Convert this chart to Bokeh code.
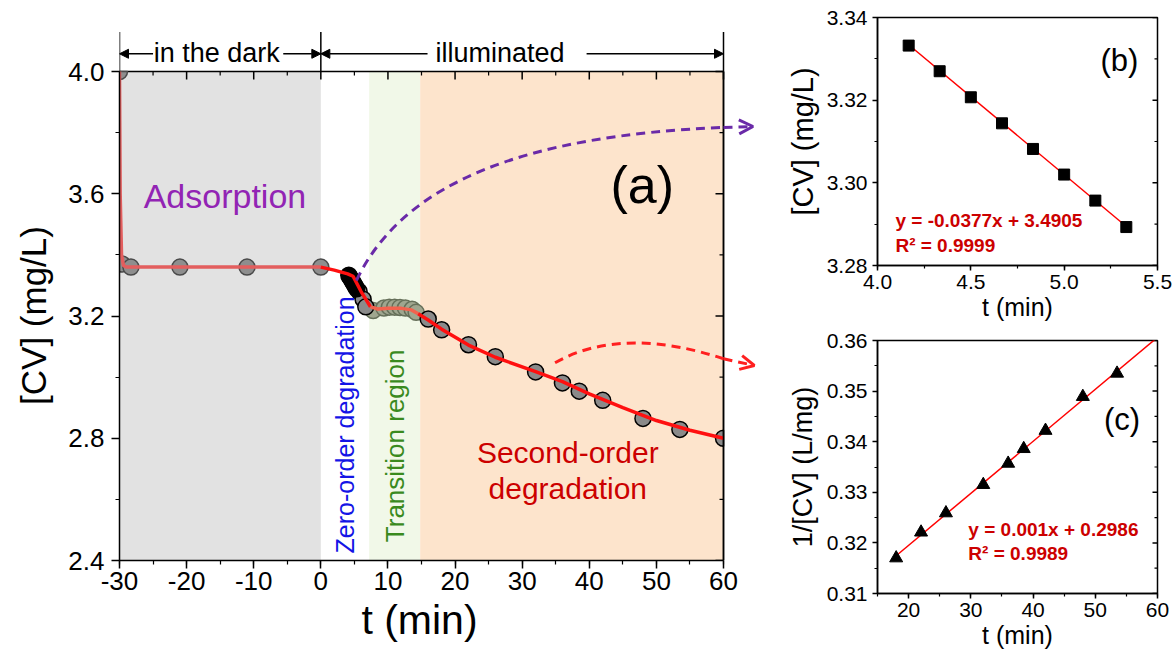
import numpy as np
from bokeh.plotting import figure
from bokeh.layouts import row, column
from bokeh.models import (SingleIntervalTicker, PrintfTickFormatter, Label,
                          Arrow, NormalHead, OpenHead, Range1d)
from bokeh.embed import file_html
from bokeh.resources import INLINE

FONT = "Liberation Sans"

# ---------------- main panel (a) data ----------------
dark_t = [-30, -29.6, -28.3, -21, -11, 0]
dark_cv = [4.0, 3.37, 3.36, 3.36, 3.36, 3.36]
zero_t = [4.167, 4.333, 4.5, 4.667, 4.833, 5.0, 5.167, 5.333]
zero_cv = [3.3332, 3.3270, 3.3207, 3.3144, 3.3082, 3.3020, 3.2957, 3.2893]
drop_t = [5.7, 6.3, 6.7]
drop_cv = [3.28, 3.255, 3.23]
trans_t = [7.8, 9.4, 10.2, 11.0, 11.8, 12.6, 13.6, 14.2]
trans_cv = [3.218, 3.226, 3.229, 3.229, 3.228, 3.226, 3.222, 3.212]
second_t = [16, 18, 22, 26, 32, 36, 38.5, 42, 48, 53.5, 60]
second_cv = [3.19, 3.155, 3.106, 3.067, 3.017, 2.981, 2.954, 2.924, 2.865, 2.829, 2.80]

fit_t = [-30, -29.9, -29.7, -29.4, -29, -20, -10, 0, 2, 4, 4.8, 6, 7.4, 8.5, 10, 12, 13.5,
         14.5, 16, 18, 22, 26, 32, 36, 40, 45, 50, 55, 60]
fit_cv = [4.0, 3.6, 3.40, 3.365, 3.36, 3.36, 3.36, 3.36, 3.35, 3.338, 3.33, 3.28, 3.23, 3.223,
          3.225, 3.225, 3.22, 3.207, 3.187, 3.157, 3.105, 3.065, 3.018, 2.985, 2.945, 2.9,
          2.858, 2.826, 2.80]

region_left = [-30, 7.2, 14.8]
region_right = [0, 14.8, 60]
region_color = ["#e2e2e2", "#f1f8e8", "#fde4cc"]

# dashed guide curves (bezier: start, control1, control2, end) and arrow tips
purple_curve = [5.3, 3.316, 12.2, 3.634, 30.1, 3.791, 60, 3.817]
purple_tip = [64.4, 3.82]
red_curve = [34.9, 3.047, 42.0, 3.136, 51.0, 3.126, 60, 3.060]
red_tip = [64.6, 3.038]

# ---------------- panel (b) data ----------------
b_t = zero_t
b_cv = zero_cv
b_slope, b_icpt = -0.0377, 3.4905

# ---------------- panel (c) data ----------------
c_t = [18, 22, 26, 32, 36, 38.5, 42, 48, 53.5]
c_inv = [0.3170, 0.3221, 0.3259, 0.3315, 0.3357, 0.3386, 0.3422, 0.3489, 0.3535]


def style(p, tick_size, xtitle_size, ytitle_size, tick_out=8, minor_out=4):
    p.grid.visible = False
    p.background_fill_color = "white"
    p.border_fill_color = "white"
    for ax in p.xaxis + p.yaxis:
        ax.axis_line_color = "black"
        ax.axis_line_width = 1.5
        ax.major_tick_line_color = "black"
        ax.minor_tick_line_color = "black"
        ax.major_tick_line_width = 1.5
        ax.minor_tick_line_width = 1.2
        ax.major_tick_in = 0
        ax.major_tick_out = tick_out
        ax.minor_tick_in = 0
        ax.minor_tick_out = minor_out
        ax.major_label_text_font = FONT
        ax.major_label_text_font_size = f"{tick_size}px"
        ax.major_label_text_color = "black"
        ax.axis_label_text_font = FONT
        ax.axis_label_text_font_style = "normal"
        ax.axis_label_text_color = "black"
    p.xaxis.axis_label_text_font_size = f"{xtitle_size}px"
    p.yaxis.axis_label_text_font_size = f"{ytitle_size}px"


def right_ticks(p, xpos, majors, minors, lmaj, lmin):
    p.ray(x=xpos, y=majors, length=lmaj, length_units="screen", angle=np.pi,
          line_color="black", line_width=1.5)
    p.ray(x=xpos, y=minors, length=lmin, length_units="screen", angle=np.pi,
          line_color="black", line_width=1.2)


# ================= main figure =================
X0, X1, Y0, Y1 = -30.0, 60.0, 2.4, 4.0
W, H = 760, 652
FL, FR, FT, FB = 119, 723, 71, 560
sx = (X1 - X0) / (FR - FL)
sy = (Y1 - Y0) / (FB - FT)
p = figure(width=W, height=H, x_range=Range1d(X0, X1 + (W - FR) * sx),
           y_range=Range1d(Y0, Y1 + FT * sy),
           output_backend="svg", toolbar_location=None,
           min_border_left=FL, min_border_right=0, min_border_top=0, min_border_bottom=H - FB)
p.outline_line_color = None
p.xaxis.ticker = SingleIntervalTicker(interval=10, num_minor_ticks=2)
p.yaxis.ticker = SingleIntervalTicker(interval=0.4, num_minor_ticks=2)
p.xaxis.bounds = (X0, X1)
p.yaxis.bounds = (Y0, Y1)
p.xaxis.formatter = PrintfTickFormatter(format="%d")
p.yaxis.formatter = PrintfTickFormatter(format="%.1f")
# em-space padding keeps the titles centred on the drawn box rather than the wider canvas
p.xaxis.axis_label = "t (min)\u2003"
p.yaxis.axis_label = "[CV] (mg/L)\u2003\u2003"
style(p, 26, 41, 35)
p.xaxis.major_label_standoff = 3
p.yaxis.major_label_standoff = 7
p.xaxis.axis_label_standoff = 4
p.yaxis.axis_label_standoff = 12

p.quad(left=region_left, right=region_right, bottom=Y0, top=Y1,
       fill_color=region_color, line_color=None)

# top and right frame lines with inward ticks
p.segment(x0=[X0, X1], y0=[Y1, Y0], x1=[X1, X1], y1=[Y1, Y1], line_color="black", line_width=1.5)
p.ray(x=np.arange(X0, X1 + 1, 10), y=Y1, length=8, length_units="screen", angle=-np.pi / 2,
      line_color="black", line_width=1.5)
p.ray(x=np.arange(X0 + 5, X1, 10), y=Y1, length=4, length_units="screen", angle=-np.pi / 2,
      line_color="black", line_width=1.2)
right_ticks(p, X1, np.arange(Y0, Y1 + 0.01, 0.4), np.arange(Y0 + 0.2, Y1, 0.4), 8, 4)

MS = 16
p.scatter(dark_t[1:], dark_cv[1:], size=MS, marker="circle", fill_color="#8e8e8e",
          line_color="#4a4a4a", line_width=1.5)
p.scatter(trans_t, trans_cv, size=MS, marker="circle", fill_color="#9fa68f", line_color="#66705a",
          line_width=1.5)
p.scatter(drop_t, drop_cv, size=MS, marker="circle", fill_color="#8a8a8a", line_color="black",
          line_width=1.5)
p.scatter(zero_t, zero_cv, size=MS, marker="circle", fill_color="black", line_color="black",
          line_width=1.5)
p.scatter(second_t[:-1], second_cv[:-1], size=MS, marker="circle", fill_color="#8a8a8a",
          line_color="black", line_width=1.5)
# points sitting on the box corners/edges show only the part inside the box
p.wedge(x=[dark_t[0]], y=[dark_cv[0]], radius=MS / 2, radius_units="screen",
        start_angle=-np.pi / 2, end_angle=0, fill_color="#8e8e8e", line_color="#4a4a4a",
        line_width=1.5)
p.wedge(x=[second_t[-1]], y=[second_cv[-1]], radius=MS / 2, radius_units="screen",
        start_angle=np.pi / 2, end_angle=3 * np.pi / 2, fill_color="#8a8a8a", line_color="black",
        line_width=1.5)

ft = np.array(fit_t)
fc = np.array(fit_cv)
segs = [(-31, 0, "#e35e5e"), (0, 7.4, "#ff1010"), (7.4, 14.5, "#f2624e"), (14.5, 61, "#ff1010")]
for lo, hi, col in segs:
    m = (ft >= lo) & (ft <= hi)
    p.line(ft[m], fc[m], line_color=col, line_width=3.5)

# redraw the right box edge over the half-visible end point
p.segment(x0=[X1], y0=[Y0], x1=[X1], y1=[Y1], line_color="black", line_width=1.5)

PURPLE = "#6a2aa8"
REDD = "#ff2020"
for crv, tip, col in [(purple_curve, purple_tip, PURPLE), (red_curve, red_tip, REDD)]:
    p.bezier(x0=[crv[0]], y0=[crv[1]], cx0=[crv[2]], cy0=[crv[3]], cx1=[crv[4]], cy1=[crv[5]],
             x1=[crv[6]], y1=[crv[7]], line_color=col, line_width=3, line_dash="9 6")
    p.add_layout(Arrow(end=OpenHead(size=14, line_color=col, line_width=3),
                       x_start=crv[6], y_start=crv[7], x_end=tip[0], y_end=tip[1],
                       line_color=col, line_width=3, line_dash="9 6"))

# phase annotations above the box
p.segment(x0=[-30, 0, 60], y0=Y1, x1=[-30, 0, 60], y1=4.129, line_color="black", line_width=1.5)
arrow_y = 4.058
for xs, xe in [(-25.0, -30), (-5.6, 0), (15.9, 0), (39.6, 60)]:
    p.add_layout(Arrow(end=NormalHead(size=9, fill_color="black", line_color="black"),
                       x_start=xs, y_start=arrow_y, x_end=xe, y_end=arrow_y,
                       line_color="black", line_width=1.5))
p.add_layout(Label(x=-15.5, y=4.061, text="in the dark", text_font=FONT, text_font_size="27px",
                   text_align="center", text_baseline="middle", text_color="black"))
p.add_layout(Label(x=26.7, y=4.061, text="illuminated", text_font=FONT, text_font_size="27px",
                   text_align="center", text_baseline="middle", text_color="black"))

p.add_layout(Label(x=-26.4, y=3.594, text="Adsorption", text_font=FONT, text_font_size="34px",
                   text_align="left", text_baseline="middle", text_color="#9224b4"))
p.add_layout(Label(x=47.9, y=3.63, text="(a)", text_font=FONT, text_font_size="52px",
                   text_align="center", text_baseline="middle", text_color="black"))
p.add_layout(Label(x=3.6, y=2.423, text="Zero-order degradation", text_font=FONT,
                   text_font_size="25px", angle=np.pi / 2, text_align="left",
                   text_baseline="middle", text_color="#1414e6"))
p.add_layout(Label(x=11.0, y=2.46, text="Transition region", text_font=FONT,
                   text_font_size="26px", angle=np.pi / 2, text_align="left",
                   text_baseline="middle", text_color="#3a8a1e"))
p.add_layout(Label(x=36.8, y=2.753, text="Second-order", text_font=FONT, text_font_size="30px",
                   text_align="center", text_baseline="middle", text_color="#cc0000"))
p.add_layout(Label(x=36.8, y=2.637, text="degradation", text_font=FONT, text_font_size="30px",
                   text_align="center", text_baseline="middle", text_color="#cc0000"))

# ================= panel (b) =================
pb = figure(width=416, height=328, x_range=Range1d(4.0, 5.5), y_range=Range1d(3.28, 3.34),
            output_backend="svg", toolbar_location=None,
            min_border_left=117, min_border_right=19, min_border_top=17, min_border_bottom=63)
pb.outline_line_color = "black"
pb.outline_line_width = 1.5
pb.xaxis.ticker = SingleIntervalTicker(interval=0.5, num_minor_ticks=2)
pb.yaxis.ticker = SingleIntervalTicker(interval=0.02, num_minor_ticks=2)
pb.xaxis.formatter = PrintfTickFormatter(format="%.1f")
pb.yaxis.formatter = PrintfTickFormatter(format="%.2f")
pb.xaxis.axis_label = "t (min)"
pb.yaxis.axis_label = "[CV] (mg/L)"
style(pb, 21, 25, 29, tick_out=5, minor_out=3)
pb.xaxis.major_label_standoff = 4
pb.yaxis.major_label_standoff = 5
pb.xaxis.axis_label_standoff = 1
pb.yaxis.axis_label_standoff = 5
right_ticks(pb, 5.5, np.arange(3.28, 3.3401, 0.02), np.arange(3.29, 3.34, 0.02), 5, 3)
bx = np.array([b_t[0], b_t[-1]])
pb.line(bx, b_slope * bx + b_icpt, line_color="red", line_width=1.5)
pb.scatter(b_t, b_cv, marker="square", size=11, fill_color="black", line_color="black")
pb.add_layout(Label(x=5.296, y=3.3296, text="(b)", text_font=FONT, text_font_size="31px",
                    text_align="center", text_baseline="middle", text_color="black"))
pb.add_layout(Label(x=4.096, y=3.2909, text="y = -0.0377x + 3.4905", text_font=FONT,
                    text_font_size="19px", text_font_style="bold", text_align="left",
                    text_baseline="middle", text_color="#cc0000"))
pb.add_layout(Label(x=4.096, y=3.2848, text="R² = 0.9999", text_font=FONT,
                    text_font_size="19px", text_font_style="bold", text_align="left",
                    text_baseline="middle", text_color="#cc0000"))

# ================= panel (c) =================
pc = figure(width=416, height=324, x_range=Range1d(15, 60), y_range=Range1d(0.31, 0.36),
            output_backend="svg", toolbar_location=None,
            min_border_left=116, min_border_right=16, min_border_top=12, min_border_bottom=59)
pc.outline_line_color = "black"
pc.outline_line_width = 1.5
pc.xaxis.ticker = SingleIntervalTicker(interval=10, num_minor_ticks=2)
pc.yaxis.ticker = SingleIntervalTicker(interval=0.01, num_minor_ticks=2)
pc.xaxis.formatter = PrintfTickFormatter(format="%d")
pc.yaxis.formatter = PrintfTickFormatter(format="%.2f")
pc.xaxis.axis_label = "t (min)"
pc.yaxis.axis_label = "1/[CV] (L/mg)"
style(pc, 21, 25, 27, tick_out=5, minor_out=3)
pc.xaxis.major_label_standoff = 4
pc.yaxis.major_label_standoff = 5
pc.xaxis.axis_label_standoff = 1
pc.yaxis.axis_label_standoff = 6
right_ticks(pc, 60, np.arange(0.31, 0.3601, 0.01), np.arange(0.315, 0.36, 0.01), 5, 3)
c_slope, c_icpt = np.polyfit(c_t, c_inv, 1)
cx = np.array([c_t[0], 60.0])
pc.line(cx, c_slope * cx + c_icpt, line_color="red", line_width=1.5)
pc.scatter(c_t, c_inv, marker="triangle", size=13, fill_color="black", line_color="black")
pc.add_layout(Label(x=54.3, y=0.3444, text="(c)", text_font=FONT, text_font_size="31px",
                    text_align="center", text_baseline="middle", text_color="black"))
pc.add_layout(Label(x=29.6, y=0.32265, text="y = 0.001x + 0.2986", text_font=FONT,
                    text_font_size="19px", text_font_style="bold", text_align="left",
                    text_baseline="middle", text_color="#cc0000"))
pc.add_layout(Label(x=29.6, y=0.3179, text="R² = 0.9989", text_font=FONT,
                    text_font_size="19px", text_font_style="bold", text_align="left",
                    text_baseline="middle", text_color="#cc0000"))

layout = row(p, column(pb, pc, spacing=0), spacing=0)
open("out.html", "w").write(file_html(layout, INLINE))
